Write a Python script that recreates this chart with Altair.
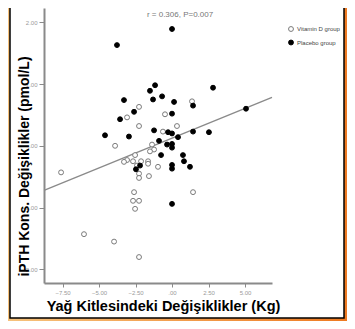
import altair as alt
import pandas as pd

# ---- data ----
vit_x = [1.37, -2.26, -3.08, -0.48, -2.26, 0.34, -3.90, -0.62, -1.37, -1.23, -1.51, -2.53,
         -3.08, -3.29, -2.67, -2.12, -1.64, -1.64, -2.40, -2.26, -2.26, -1.58, -0.96, -7.60,
         -2.60, -2.67, -2.26, -2.53, -6.03, -3.97, -2.26, 1.44]
vit_y = [0.72, 0.63, 0.46, 0.51, 0.32, 0.32, 0.00, 0.23, 0.02, -0.06, -0.09, -0.15,
         -0.23, -0.26, -0.25, -0.25, -0.25, -0.29, -0.32, -0.45, -0.52, -0.49, -0.34, -0.43,
         -0.75, -0.89, -0.89, -1.02, -1.43, -1.55, -1.80, -0.75]
pla_x = [0.00, -3.77, -1.16, -1.51, -0.68, -1.30, -3.29, 0.14, 2.81, 1.44, -2.60, -3.56,
         0.00, 5.07, -4.59, -2.95, -1.23, -0.27, 0.00, 0.41, 1.44, 2.53, -0.89, -0.34,
         0.00, 0.00, -0.75, -2.47, -2.19, 0.00, 0.00, 0.75, 0.82, 1.23, 0.00]
pla_y = [1.89, 1.63, 0.98, 0.89, 0.80, 0.75, 0.74, 0.71, 0.94, 0.65, 0.55, 0.43,
         0.52, 0.60, 0.17, 0.15, 0.25, 0.22, 0.20, 0.14, 0.23, 0.22, 0.08, 0.02,
         0.03, -0.03, -0.15, -0.38, -0.32, -0.31, -0.37, -0.15, -0.25, -0.34, -0.94]
groups = ["Vitamin D group", "Placebo group"]

fit_x = [-8.77, 6.85]
fit_y = [-0.72, 0.785]

ann_x = [0.55]
ann_y = [2.12]
ann_text = ["r = 0.306, P=0.007"]

x_ticks = [-7.5, -5.0, -2.5, 0.0, 2.5, 5.0]
y_ticks = [-2.0, -1.0, 0.0, 1.0, 2.0]
x_domain = [-8.77, 6.85]
y_domain = [-2.22, 2.23]

x_title = "Yağ Kitlesindeki Değişiklikler (Kg)"
y_title = "iPTH Kons. Değişiklikler (pmol/L)"

# ---- tables ----
pts = pd.DataFrame({
    "x": vit_x + pla_x,
    "y": vit_y + pla_y,
    "group": [groups[0]] * len(vit_x) + [groups[1]] * len(pla_x),
})
fit = pd.DataFrame({"x": fit_x, "y": fit_y})
ann = pd.DataFrame({"x": ann_x, "y": ann_y, "t": ann_text})
one = pd.DataFrame({"a": [0]})

FONT = "Liberation Sans"
lbl_expr = "datum.value == 0 ? '.00' : format(datum.value, '.2f')"

x_scale = alt.Scale(domain=x_domain, nice=False, zero=False)
y_scale = alt.Scale(domain=y_domain, nice=False, zero=False)

x_axis = alt.Axis(
    title=x_title, values=x_ticks, labelExpr=lbl_expr, grid=False,
    domainColor="#8a8a8a", domainWidth=2, tickColor="#8a8a8a", tickSize=4, tickWidth=1,
    labelFont=FONT, labelFontSize=6, labelColor="#9a9a9a", labelPadding=2,
    titleFont=FONT, titleFontSize=14.5, titleFontWeight="bold", titleColor="black",
    titleX=119, titleY=27, titleAlign="center", titleBaseline="alphabetic", zindex=1,
)
y_axis = alt.Axis(
    title=y_title, values=y_ticks, labelExpr=lbl_expr, grid=False,
    domainColor="#8a8a8a", domainWidth=2, tickColor="#8a8a8a", tickSize=5, tickWidth=1,
    labelFont=FONT, labelFontSize=6, labelColor="#9a9a9a", labelPadding=2,
    titleFont=FONT, titleFontSize=14, titleFontWeight="bold", titleColor="black",
    titleX=-16, titleY=158, titleAngle=270, titleAlign="center", titleBaseline="alphabetic",
    zindex=1,
)

legend = alt.Legend(
    title=None, orient="none", legendX=244, legendY=18, padding=0,
    labelFont=FONT, labelFontSize=6, labelColor="#444444", labelOffset=3,
    symbolSize=24, symbolStrokeWidth=1, rowPadding=3.5,
)

gradient = alt.LinearGradient(
    gradient="linear", x1=0, x2=1, y1=0, y2=0,
    stops=[alt.GradientStop(color="#F6C27C", offset=0),
           alt.GradientStop(color="#EE7A22", offset=1)],
)

bg = alt.Chart(one).mark_rect(fill=gradient).encode(
    x=alt.value(-36), x2=alt.value(303), y=alt.value(-5), y2=alt.value(320)
)
panel = alt.Chart(one).mark_rect(fill="white", stroke="black", strokeWidth=1.5).encode(
    x=alt.value(-34), x2=alt.value(300), y=alt.value(-3), y2=alt.value(310)
)

line = alt.Chart(fit).mark_line(color="#8a8a8a", strokeWidth=1.3).encode(
    x=alt.X("x:Q", scale=x_scale, axis=x_axis),
    y=alt.Y("y:Q", scale=y_scale, axis=y_axis),
)

points = alt.Chart(pts).mark_point(shape="circle", filled=True, size=24, strokeWidth=1, opacity=1).encode(
    x=alt.X("x:Q", scale=x_scale, axis=x_axis),
    y=alt.Y("y:Q", scale=y_scale, axis=y_axis),
    fill=alt.Fill("group:N", scale=alt.Scale(domain=groups, range=["white", "black"]), legend=legend),
    stroke=alt.Stroke("group:N", scale=alt.Scale(domain=groups, range=["#7a7a7a", "black"]), legend=legend),
)

text = alt.Chart(ann).mark_text(font=FONT, fontSize=8, color="#777777").encode(
    x=alt.X("x:Q", scale=x_scale, axis=x_axis),
    y=alt.Y("y:Q", scale=y_scale, axis=y_axis),
    text="t:N",
)

chart = alt.layer(bg, panel, line, points, text).properties(
    width=228, height=275,
    autosize=alt.AutoSizeParams(type="none"),
    padding={"left": 36, "top": 0, "right": 75, "bottom": 38},
    background="#F2A04C",
).configure_view(stroke=None)

chart.save("out.html", embed_options={"renderer": "svg", "actions": False})
